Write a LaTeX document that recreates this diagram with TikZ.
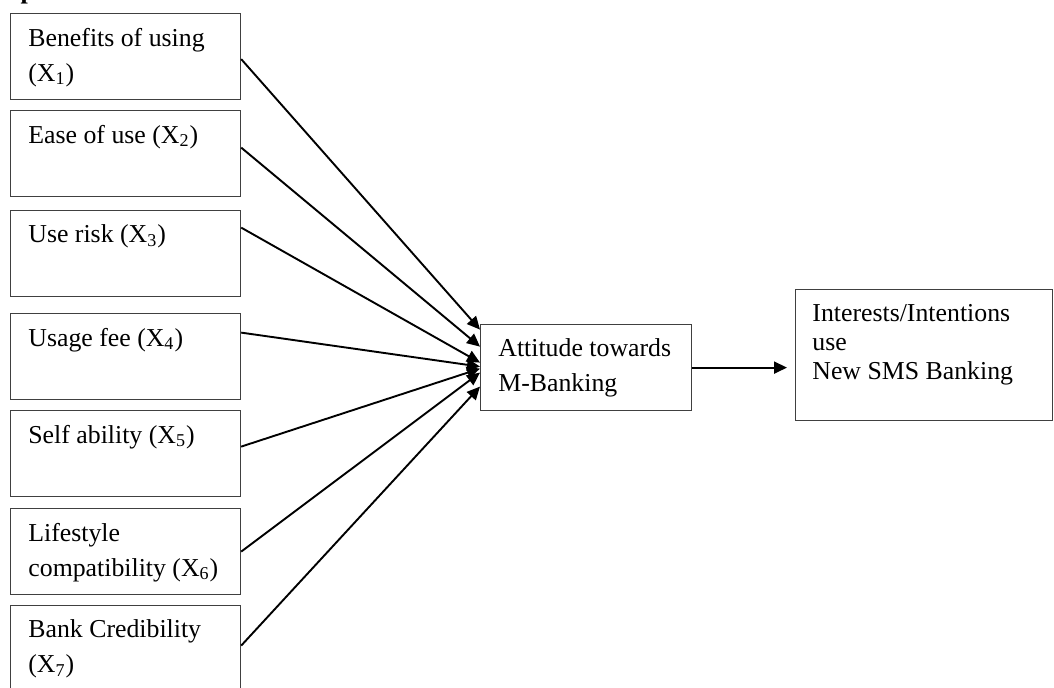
\documentclass[tikz,border=0pt]{standalone}
\usepackage{fontspec}
\setmainfont{Liberation Serif}
\usetikzlibrary{arrows.meta}

\begin{document}
\begin{tikzpicture}[x=0.5pt,y=-0.5pt,>={Triangle[length=6.5pt,width=6pt]},
  box/.style={draw=black!75,line width=0.6pt,anchor=north west,inner sep=0pt},
  factor/.style={box,minimum width=115pt,minimum height=43pt},
  note/.style={anchor=north west,align=left,inner xsep=9pt,inner ysep=7.3pt,
    font=\fontsize{12.9}{17.5}\selectfont},
  link/.style={->,line width=0.95pt}]
  \useasboundingbox (0,0) rectangle (1054,687);
  % title, cut off by the top of the page
  \node[anchor=base west,inner sep=0pt,font=\fontsize{13}{15}\bfseries] (title) at (-49,-2) {Conceptual Framework};
  % factors
  \node[factor,label={[note]north west:{Benefits of using\\(X\textsubscript{1})}}] (x1) at (10,13) {};
  \node[factor,label={[note]north west:{Ease of use (X\textsubscript{2})}}] (x2) at (10,110) {};
  \node[factor,label={[note]north west:{Use risk (X\textsubscript{3})}}] (x3) at (10,210) {};
  \node[factor,label={[note]north west:{Usage fee (X\textsubscript{4})}}] (x4) at (10,313) {};
  \node[factor,label={[note]north west:{Self ability (X\textsubscript{5})}}] (x5) at (10,410) {};
  \node[factor,label={[note]north west:{Lifestyle\\compatibility (X\textsubscript{6})}}] (x6) at (10,508) {};
  \node[factor,label={[note]north west:{Bank Credibility\\(X\textsubscript{7})}}] (x7) at (10,605) {};
  % attitude and intention
  \node[box,minimum width=105.5pt,minimum height=43pt,
    label={[note]north west:{Attitude towards\\M-Banking}}] (att) at (480,324) {};
  \node[box,minimum width=128.5pt,minimum height=65.5pt,
    label={[note,inner xsep=8.5pt,font=\fontsize{12.9}{14.5}\selectfont]north west:{Interests/Intentions\\use\\New SMS Banking}}] (int) at (795,289) {};
  % arrows
  \draw[link] ([yshift=-1.25pt]x1.east) -- ([yshift=19pt]att.west);
  \draw[link] ([yshift=3pt]x2.east) -- ([yshift=10.5pt]att.west);
  \draw[link] ([yshift=13pt]x3.east) -- ([yshift=2.5pt]att.west);
  \draw[link] ([yshift=12pt]x4.east) -- ([yshift=0.5pt]att.west);
  \draw[link] ([yshift=3.5pt]x5.east) -- ([yshift=-0.5pt]att.west);
  \draw[link] (x6.east) -- ([yshift=-2.5pt]att.west);
  \draw[link] ([yshift=1.5pt]x7.east) -- ([yshift=-9.5pt]att.west);
  \draw[link,shorten >=4pt] (att.east) -- (att.east -| int.west);
\end{tikzpicture}
\end{document}
